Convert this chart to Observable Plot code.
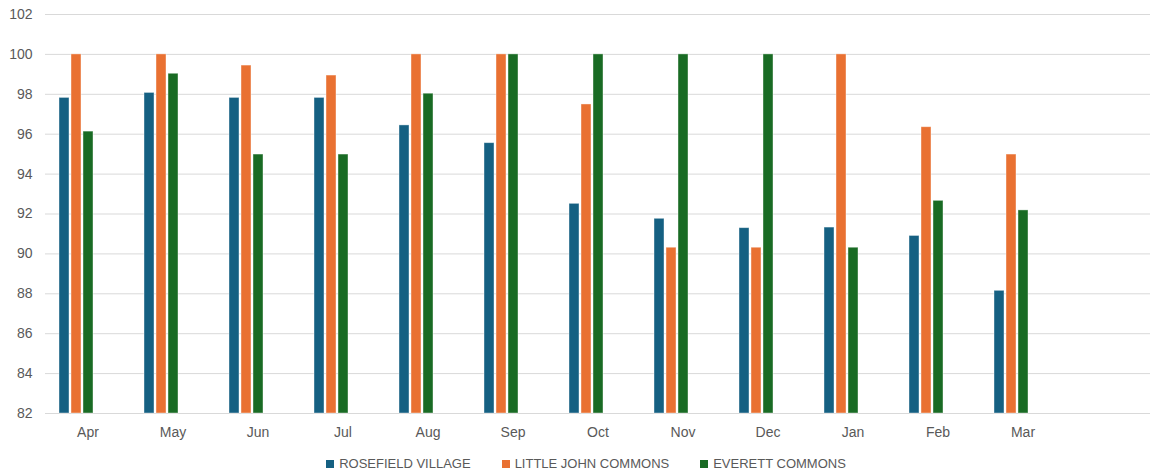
<!DOCTYPE html>
<html>
<head>
<meta charset="utf-8">
<script src="https://cdn.jsdelivr.net/npm/d3@7"></script>
<script src="https://cdn.jsdelivr.net/npm/@observablehq/plot@0.6"></script>
<style>
  html, body { margin: 0; padding: 0; background: #fff; }
  body { width: 1150px; height: 473px; overflow: hidden; font-family: "Liberation Sans", Arial, sans-serif; }
  #legend { display: flex; justify-content: center; gap: 31px; font-size: 13px; color: #595959; padding-left: 22px; margin-top: 11px; }
  #legend .item { display: flex; align-items: center; }
  #legend .sw { width: 8px; height: 8px; margin-right: 5px; display: inline-block; }
</style>
</head>
<body>
<div id="chart"></div>
<div id="legend"></div>
<script>
const months = ["Apr", "May", "Jun", "Jul", "Aug", "Sep", "Oct", "Nov", "Dec", "Jan", "Feb", "Mar", ""];
const series = ["ROSEFIELD VILLAGE", "LITTLE JOHN COMMONS", "EVERETT COMMONS"];
const colors = ["#156082", "#E97132", "#196B24"];
const rosefield = [97.82, 98.07, 97.82, 97.82, 96.44, 95.55, 92.51, 91.76, 91.29, 91.32, 90.9, 88.15];
const littleJohn = [100, 100, 99.44, 98.94, 100, 100, 97.49, 90.31, 90.31, 100, 96.35, 94.98];
const everett = [96.13, 99.03, 94.98, 94.98, 98.03, 100, 100, 100, 100, 90.31, 92.66, 92.18];
const yTicks = [82, 84, 86, 88, 90, 92, 94, 96, 98, 100, 102];
const yMin = 82;

const valuesBySeries = [rosefield, littleJohn, everett];
const data = [];
valuesBySeries.forEach((vals, si) => {
  vals.forEach((v, mi) => data.push({ month: months[mi], series: series[si], value: v }));
});
const gridRows = months.flatMap(m => yTicks.map(t => ({ month: m, v: t })));

const chart = Plot.plot({
  width: 1150,
  height: 445,
  marginTop: 14,
  marginBottom: 32,
  marginLeft: 45,
  marginRight: 0,
  style: { fontFamily: "'Liberation Sans', Arial, sans-serif", color: "#595959", background: "#fff" },
  fx: { domain: months, padding: 0 },
  x: { domain: series, axis: null, paddingInner: 0.18, paddingOuter: 1.91, align: 0.27 },
  y: { domain: [82, 102] },
  color: { domain: series, range: colors },
  marks: [
    Plot.ruleY(gridRows, { fx: "month", y: "v", stroke: "#d9d9d9", strokeWidth: 1 }),
    Plot.barY(data, { fx: "month", x: "series", y1: yMin, y2: "value", fill: "series", stroke: "#ffffff", strokeOpacity: 0.5, strokeWidth: 0.8, inset: 0 }),
    Plot.axisY({ ticks: yTicks, tickSize: 0, tickPadding: 13, fontSize: 14, fill: "#595959", label: null }),
    Plot.axisFx({ anchor: "bottom", tickSize: 0, tickPadding: 14, fontSize: 14, fill: "#595959", label: null })
  ]
});
document.getElementById("chart").appendChild(chart);

const legend = document.getElementById("legend");
series.forEach((s, i) => {
  const item = document.createElement("div");
  item.className = "item";
  const sw = document.createElement("span");
  sw.className = "sw";
  sw.style.background = colors[i];
  const t = document.createElement("span");
  t.textContent = s;
  item.appendChild(sw);
  item.appendChild(t);
  legend.appendChild(item);
});
</script>
</body>
</html>
